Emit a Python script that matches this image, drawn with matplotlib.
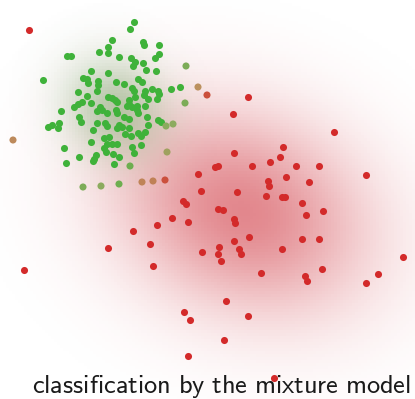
import numpy as np
import matplotlib
matplotlib.use("Agg")
import matplotlib.pyplot as plt
from matplotlib.colors import LinearSegmentedColormap

plt.rcParams["mathtext.fontset"] = "cm"

# points of the first (green) component
green_x = [134, 130, 112, 108, 108, 99, 143, 144, 159, 159, 155, 67, 71, 119, 131, 135, 133, 143,
           43, 91, 108, 146, 156, 83, 87, 88, 98, 98, 97, 116, 124, 138, 142, 132, 134, 145, 152,
           158, 159, 171, 180, 78, 87, 108, 112, 115, 117, 129, 135, 144, 148, 157, 82, 78, 74,
           91, 100, 97, 102, 107, 116, 117, 127, 129, 132, 137, 137, 138, 145, 61, 79, 81, 124,
           129, 147, 148, 158, 161, 97, 105, 107, 119, 122, 117, 129, 48, 52, 58, 59, 93, 125,
           131, 138, 141, 145, 104, 109, 91, 107, 112, 117, 104, 106, 132, 141, 64, 134, 113,
           119, 96, 94, 93, 79, 66, 114]
green_y = [22, 29, 40, 47, 53, 52, 42, 45, 45, 54, 58, 56, 56, 57, 58, 62, 66, 63,
           80, 71, 73, 70, 71, 78, 79, 83, 81, 85, 91, 82, 84, 79, 82, 88, 91, 91, 89,
           91, 94, 89, 87, 92, 96, 97, 98, 100, 102, 100, 97, 95, 99, 99, 102, 104, 107,
           103, 107, 111, 110, 113, 110, 113, 106, 104, 107, 106, 110, 113, 106, 111, 117, 122, 117,
           119, 117, 125, 120, 122, 123, 123, 126, 125, 127, 128, 128, 127, 125, 128, 123, 130, 134,
           136, 133, 136, 132, 138, 137, 142, 144, 144, 144, 148, 152, 147, 145, 148, 153, 154,
           157, 155, 159, 161, 157, 163, 164]

# points of the second (red) component
red_x = [29, 248, 233, 334, 234, 283, 280, 215, 218, 252, 270, 296, 319, 366, 286, 268, 269,
         309, 198, 201, 237, 266, 282, 285, 183, 186, 218, 223, 302, 323, 306, 172, 188, 234,
         235, 157, 133, 150, 249, 234, 302, 319, 219, 218, 221, 239, 241, 282, 202, 153, 261,
         322, 305, 307, 403, 378, 366, 226, 184, 190, 248, 224, 188, 274, 24, 108]
red_y = [30, 97, 114, 132, 153, 147, 157, 167, 166, 166, 162, 166, 166, 175, 177, 181, 186,
         182, 174, 191, 192, 196, 197, 197, 201, 204, 209, 210, 203, 211, 215, 218, 222, 219,
         223, 225, 231, 244, 237, 241, 239, 239, 247, 254, 261, 249, 254, 249, 252, 266, 273,
         269, 276, 281, 257, 274, 283, 301, 312, 320, 316, 340, 356, 378, 270, 248]

# ambiguous points and their posterior probability of the red component
mixed_x = [198, 207, 186, 185, 166, 173, 13, 167, 130, 83, 101, 119, 142, 153, 165]
mixed_y = [87, 95, 66, 103, 126, 124, 140, 152, 166, 187, 186, 184, 182, 181, 180]
mixed_p = [0.5, 0.85, 0.2, 0.2, 0.25, 0.25, 0.55, 0.35, 0.15, 0.2, 0.25, 0.15, 0.6, 0.62, 0.85]

# fitted mixture components (centre, covariance)
green_mu = [115, 108]
green_cov = [[1200, 150], [150, 1200]]
red_mu = [242, 212]
red_cov = [[7500, 1200], [1200, 5000]]

W, H = 415, 399
fig = plt.figure(figsize=(W / 100, H / 100), dpi=100)
ax = fig.add_axes([0, 0, 1, 1])
ax.set_xlim(0, W)
ax.set_ylim(H, 0)
ax.axis("off")


def density(mu, cov, gx, gy):
    inv = np.linalg.inv(np.array(cov, float))
    dx = gx - mu[0]
    dy = gy - mu[1]
    q = inv[0, 0] * dx * dx + 2 * inv[0, 1] * dx * dy + inv[1, 1] * dy * dy
    return np.exp(-0.5 * q)


step = 3
gx, gy = np.meshgrid(np.arange(0, W, step) + step / 2, np.arange(0, H, step) + step / 2)

red_layer = np.zeros(gx.shape + (4,))
red_layer[..., :3] = np.array([205, 45, 55]) / 255
red_layer[..., 3] = 0.57 * density(red_mu, red_cov, gx, gy)
ax.imshow(red_layer, extent=[0, gx.shape[1] * step, gy.shape[0] * step, 0],
          interpolation="nearest", zorder=0)

green_layer = np.zeros(gx.shape + (4,))
green_layer[..., :3] = np.array([85, 140, 65]) / 255
green_layer[..., 3] = 0.4 * density(green_mu, green_cov, gx, gy)
ax.imshow(green_layer, extent=[0, gx.shape[1] * step, gy.shape[0] * step, 0],
          interpolation="nearest", zorder=1)

cmap = LinearSegmentedColormap.from_list(
    "gr", [(0.0, "#3fb23a"), (0.25, "#8cab5f"), (0.5, "#bb915f"),
           (0.7, "#c27650"), (1.0, "#d32a2a")])

ax.scatter(green_x, green_y, s=26, color=cmap(0.0), linewidths=0, zorder=3)
ax.scatter(red_x, red_y, s=26, color=cmap(1.0), linewidths=0, zorder=3)
ax.scatter(mixed_x, mixed_y, s=26, c=mixed_p, cmap=cmap, vmin=0, vmax=1,
           linewidths=0, zorder=3)

ax.text(221, 386, r"$\mathsf{classification\ by\ the\ mixture\ model}$",
        ha="center", va="center", fontsize=19, color="#1a1a1a", zorder=2)

fig.savefig("out.png", dpi=100)
